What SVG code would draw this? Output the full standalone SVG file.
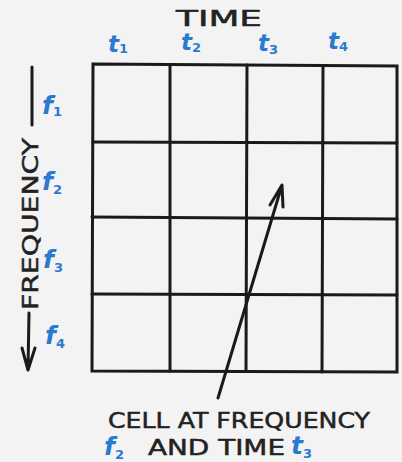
<svg xmlns="http://www.w3.org/2000/svg" width="402" height="462" viewBox="0 0 402 462">
<style>
.grid{fill:none;stroke:#1a1a1a;stroke-width:3;stroke-linecap:round}
.lbl{font-family:"DejaVu Sans","Liberation Sans",sans-serif;fill:#222;stroke:#222;stroke-width:0.5}
.blue{font-family:"DejaVu Sans","Liberation Sans",sans-serif;fill:#2a7ad0;font-weight:bold;font-style:italic}
.sub{font-size:13px;font-style:normal}
.conn{fill:none;stroke:#1a1a1a;stroke-width:3;stroke-linecap:round;stroke-linejoin:round}
</style>
<rect width="402" height="462" fill="#f3f3f3"/>
<g id="grid">
<path class="grid" d="M93,64 L397,66 L397,372 L92,371 Z"/>
<path class="grid" d="M170,65 L170,371 M247,65 L246,371 M323,66 L322,372"/>
<path class="grid" d="M93,142 L397,143 M92,217 L397,219 M92,294 L397,295"/>
</g>
<g id="time-axis">
<text class="lbl" x="176" y="26" font-size="21" textLength="86" lengthAdjust="spacingAndGlyphs">TIME</text>
<text class="blue" x="108" y="52" font-size="23">t<tspan class="sub" dy="1">1</tspan></text>
<text class="blue" x="181" y="50" font-size="23">t<tspan class="sub" dy="2">2</tspan></text>
<text class="blue" x="258" y="51" font-size="23">t<tspan class="sub" dy="3">3</tspan></text>
<text class="blue" x="328" y="49" font-size="23">t<tspan class="sub" dy="2">4</tspan></text>
</g>
<g id="frequency-axis">
<text class="lbl" transform="translate(38,310) rotate(-90)" font-size="22" textLength="172" lengthAdjust="spacingAndGlyphs">FREQUENCY</text>
<text class="blue" x="42" y="114" font-size="25">f<tspan class="sub" dy="2">1</tspan></text>
<text class="blue" x="42" y="190" font-size="25">f<tspan class="sub" dy="4">2</tspan></text>
<text class="blue" x="43" y="268" font-size="25">f<tspan class="sub" dy="4">3</tspan></text>
<text class="blue" x="45" y="344" font-size="25">f<tspan class="sub" dy="4">4</tspan></text>
</g>
<g id="connectors">
<path class="conn" d="M32,67 L32,125"/>
<path class="conn" d="M29,313 L28,370 M22,348 L28,370 L35,348"/>
<path class="conn" d="M218,398 L282,185 M270,205 L282,185 L283,207"/>
</g>
<g id="caption">
<text class="lbl" x="108" y="428" font-size="22" textLength="262" lengthAdjust="spacingAndGlyphs">CELL AT FREQUENCY</text>
<text class="blue" x="104" y="455" font-size="25">f<tspan class="sub" font-size="14" dy="4">2</tspan></text>
<text class="lbl" x="148" y="455" font-size="21" textLength="137" lengthAdjust="spacingAndGlyphs">AND TIME</text>
<text class="blue" x="291" y="454" font-size="25">t<tspan class="sub" font-size="14" dy="4">3</tspan></text>
</g>
</svg>
